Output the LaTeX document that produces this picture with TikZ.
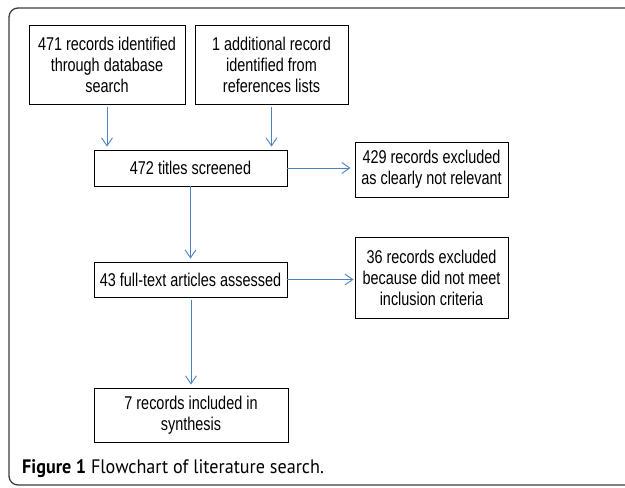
\documentclass[tikz,border=0pt]{standalone}
\usepackage{fontspec}
\setmainfont{Liberation Sans}
\newfontfamily\boxfont[FakeStretch=0.78]{Liberation Sans}
\newfontfamily\capfont[FakeStretch=0.93]{PT Sans}
\usetikzlibrary{arrows.meta}
\definecolor{flowblue}{RGB}{79,129,189}
\definecolor{framegray}{RGB}{60,60,60}
\begin{document}
\begin{tikzpicture}[x=1pt,y=-1pt,
  box/.style={draw=black,line width=0.9pt,inner sep=0pt,align=center,
    font=\boxfont\fontsize{18.5}{21}\selectfont},
  flow/.style={draw=flowblue,line width=0.9pt,
    -{Straight Barb[length=8pt,width=11pt,line width=0.9pt]}}]
  \useasboundingbox (0,0) rectangle (625,488);
  \clip (0,0) rectangle (625,488);
  % outer frame (open on the right)
  \draw[framegray,line width=1.3pt,rounded corners=9pt] (640,8) -- (9,8) -- (9,485) -- (640,485);

  % sources
  \node[box,minimum width=156pt,minimum height=79pt] (dbase) at (107,64.5)
    {471 records identified\\through database\\search};
  \node[box,minimum width=153pt,minimum height=79pt] (refs) at (271.5,64.5)
    {1 additional record\\identified from\\references lists};

  % screening
  \node[box,minimum width=193pt,minimum height=36pt] (titles) at (190.5,168)
    {472 titles screened};
  \node[box,minimum width=153pt,minimum height=55pt] (notrel) at (431.5,169.5)
    {429 records excluded\\as clearly not relevant};

  % eligibility
  \node[box,minimum width=193pt,minimum height=35pt] (fulltext) at (190.5,279.5)
    {43 full-text articles assessed};
  \node[box,minimum width=153pt,minimum height=81pt] (notmet) at (431.5,277.5)
    {36 records excluded\\because did not meet\\inclusion criteria};

  % included
  \node[box,minimum width=194pt,minimum height=54pt] (incl) at (191,415)
    {7 records included in\\synthesis};

  % connectors
  \draw[flow,shorten <=3pt,shorten >=3pt] (dbase.south) -- (dbase.south |- titles.north);
  \draw[flow,shorten <=3pt,shorten >=3pt] (refs.south) -- (refs.south |- titles.north);
  \draw[flow,shorten >=4pt] (titles.east) -- (titles.east -| notrel.west);
  \draw[flow,shorten >=3pt] (titles.south) -- (fulltext.north);
  \draw[flow,shorten >=1pt] (fulltext.east) -- (fulltext.east -| notmet.west);
  \draw[flow,shorten <=3pt,shorten >=3pt] (fulltext.south -| incl.north) -- (incl.north);

  % caption
  \node[anchor=west,font=\capfont\fontsize{19.5}{22}\selectfont,inner sep=0pt] (cap) at (22,469)
    {\textbf{Figure 1} Flowchart of literature search.};
\end{tikzpicture}
\end{document}
